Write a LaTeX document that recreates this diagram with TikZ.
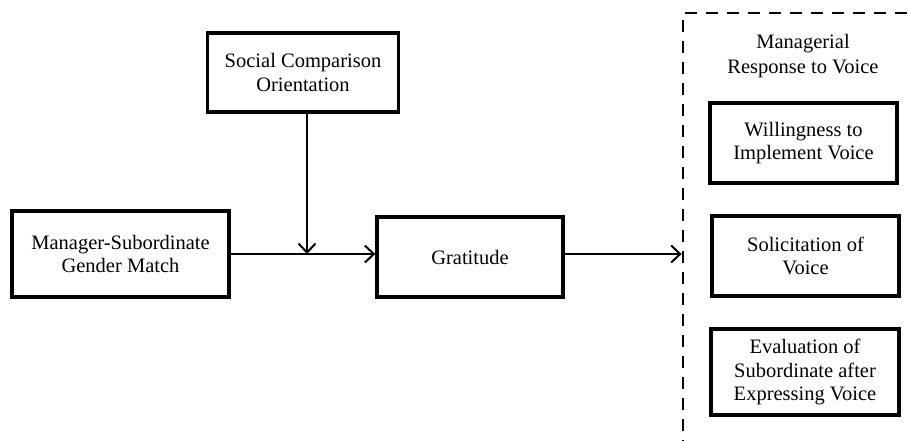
\documentclass[tikz,border=0pt]{standalone}
\usepackage{fontspec}
\setmainfont{Liberation Serif}
\usetikzlibrary{arrows.meta,positioning}

\begin{document}
\begin{tikzpicture}[x=1pt, y=-1pt,
		varbox/.style={draw, line width=3.4pt, align=center, inner sep=0pt,
			font=\fontsize{20.5}{23.5}\selectfont},
		link/.style={line width=2pt, -{Straight Barb[length=9pt, width=17pt, line width=2pt]}}]
		\useasboundingbox (0, 0) rectangle (909, 440);
		\clip (0, 0) rectangle (909, 440);

		% moderator, predictor, mediator
		\node [varbox, minimum width=191, minimum height=79] (social) at (303, 72.5) {Social Comparison\\Orientation};
		\node [varbox, minimum width=217, minimum height=86] (match) at (120.5, 254) {Manager-Subordinate\\Gender Match};
		\node [varbox, minimum width=186, minimum height=80] (grat) at (470, 257) {Gratitude};

		% outcomes in the dashed panel
		\node [draw, line width=2.8pt, dash pattern=on 12pt off 9pt, minimum width=260, minimum height=460] (panel) at (813, 243) {};
		\node [align=center, font=\fontsize{20.5}{24.5}\selectfont] (title) at (803, 56) {Managerial\\Response to Voice};
		\node [varbox, minimum width=187, minimum height=80] (will) at (803.5, 143) {Willingness to\\Implement Voice};
		\node [varbox, minimum width=187, minimum height=80] (solic) at (805.5, 256) {Solicitation of\\Voice};
		\node [varbox, minimum width=188, minimum height=86] (eval) at (805, 372) {Evaluation of\\Subordinate after\\Expressing Voice};

		\draw [link] (match.east) -- (match.east -| grat.west);
		\draw [link] (social.south -| 307, 0) -- (307, 254);
		\draw [link] (grat.east |- 0, 254) -- (panel.west |- 0, 254);
	\end{tikzpicture}
\end{document}
